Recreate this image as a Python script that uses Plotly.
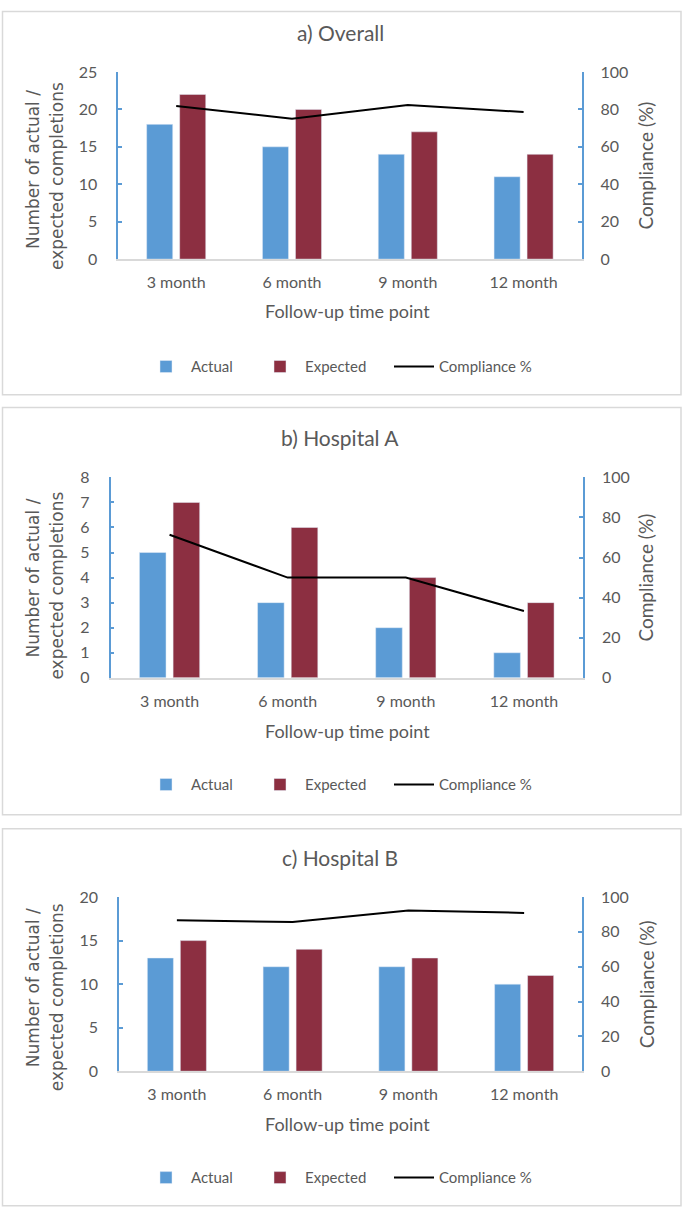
import plotly.graph_objects as go

# ---------------- data ----------------
categories = ["3 month", "6 month", "9 month", "12 month"]

overall_actual = [18, 15, 14, 11]
overall_expected = [22, 20, 17, 14]
overall_compliance = [81.8, 75.0, 82.4, 78.6]

hospA_actual = [5, 3, 2, 1]
hospA_expected = [7, 6, 4, 3]
hospA_compliance = [71.4, 50.0, 50.0, 33.3]

hospB_actual = [13, 12, 12, 10]
hospB_expected = [15, 14, 13, 11]
hospB_compliance = [86.7, 85.7, 92.3, 90.9]

series_names = ["Actual", "Expected", "Compliance %"]
panel_titles = ["a) Overall", "b) Hospital A", "c) Hospital B"]
left_max = [25, 8, 20]
left_dtick = [5, 1, 5]
right_ticks = [0, 20, 40, 60, 80, 100]

# ---------------- layout geometry (pixels of the target picture) ----------------
W, H = 685, 1209
V_OFF, V_SC = 9.0, 0.985   # vertical calibration of the rendered page


def fx(x):
    return x / W


def fy(y):
    return 1 - ((y - V_OFF) / V_SC) / H


BLUE = "#5B9BD5"
MAROON = "#8C2F41"
GREY = "#595959"
BORDER = "#D9D9D9"
CAL = "Lato, 'Open Sans', sans-serif"
VERD = "'DejaVu Sans', Verdana, sans-serif"

geom = [
    dict(l=118.3, r=581.5, t=71.0, b=258.3, title=33, xtitle=312, leg=366,
         bt=10.5, bb=394, off1=4.5, off2=10.5),
    dict(l=110.5, r=583.0, t=476.7, b=677.3, title=438.3, xtitle=731.7, leg=784.3,
         bt=406.7, bb=814.3, off1=1, off2=8),
    dict(l=119.0, r=582.0, t=896.7, b=1071.0, title=859, xtitle=1125, leg=1177.7,
         bt=828.3, bb=1205.5, off1=4, off2=13),
]
legend_text_x = [192, 306, 440]

series = [
    (overall_actual, overall_expected, overall_compliance),
    (hospA_actual, hospA_expected, hospA_compliance),
    (hospB_actual, hospB_expected, hospB_compliance),
]

fig = go.Figure()
layout = dict(
    width=W, height=H,
    margin=dict(l=0, r=0, t=0, b=0),
    paper_bgcolor="white", plot_bgcolor="white",
    barmode="group", bargap=0.43, bargroupgap=0.21,
    font=dict(family=CAL, size=15, color=GREY),
    annotations=[], shapes=[],
    showlegend=True,
)

legend_idx = 1
for i, (g, (act, exp, comp)) in enumerate(zip(geom, series)):
    xa = "x" if i == 0 else f"x{i+1}"
    ya = "y" if i == 0 else f"y{2*i+1}"
    yb = f"y{2*i+2}"
    xkey = "xaxis" if i == 0 else f"xaxis{i+1}"
    ykey = "yaxis" if i == 0 else f"yaxis{2*i+1}"
    ykey2 = f"yaxis{2*i+2}"

    legs = []
    for k in range(3):
        legend_idx += 1
        lname = f"legend{legend_idx}"
        legs.append(lname)
        layout[lname] = dict(
            orientation="h", x=fx(legend_text_x[k] - 51), y=fy(g["leg"]),
            xanchor="left", yanchor="middle",
            font=dict(family=CAL, size=15, color=GREY), bgcolor="rgba(0,0,0,0)",
            itemwidth=40,
        )

    fig.add_trace(go.Bar(x=categories, y=act, name=series_names[0], marker_color=BLUE,
                         xaxis=xa, yaxis=ya, legend=legs[0], showlegend=True))
    fig.add_trace(go.Bar(x=categories, y=exp, name=series_names[1], marker_color=MAROON,
                         xaxis=xa, yaxis=ya, legend=legs[1], showlegend=True))
    fig.add_trace(go.Scatter(x=categories, y=comp, name=series_names[2], mode="lines",
                             line=dict(color="black", width=2),
                             xaxis=xa, yaxis=yb, legend=legs[2], showlegend=True))

    layout[xkey] = dict(
        domain=[fx(g["l"]), fx(g["r"])], anchor=ya,
        showline=True, linecolor=BORDER, linewidth=1.5,
        ticks="", showgrid=False, zeroline=False,
        tickfont=dict(family=CAL, size=16, color=GREY),
        ticklabelstandoff=8,
    )
    layout[ykey] = dict(
        domain=[fy(g["b"]), fy(g["t"])], anchor=xa,
        range=[0, left_max[i]], dtick=left_dtick[i], tick0=0,
        showline=True, linecolor=BLUE, linewidth=1.5,
        ticks="inside", ticklen=4, tickcolor=BLUE, tickwidth=1.5,
        showgrid=False, zeroline=False,
        tickfont=dict(family=CAL, size=16, color=GREY),
        ticklabelstandoff=16,
    )
    layout[ykey2] = dict(
        overlaying=ya, anchor=xa, side="right",
        range=[0, 100], tickvals=right_ticks,
        showline=True, linecolor=BLUE, linewidth=1.5,
        ticks="inside", ticklen=4, tickcolor=BLUE, tickwidth=1.5,
        showgrid=False, zeroline=False,
        tickfont=dict(family=CAL, size=16, color=GREY),
        ticklabelstandoff=14,
    )

    cy = (g["t"] + g["b"]) / 2
    layout["annotations"] += [
        dict(text=panel_titles[i], x=fx(340), y=fy(g["title"] - 1.5), xref="paper", yref="paper",
             showarrow=False, xanchor="center", yanchor="middle",
             font=dict(family=CAL, size=21, color=GREY)),
        dict(text="Follow-up time point", x=fx(348), y=fy(g["xtitle"] - 1.5), xref="paper", yref="paper",
             showarrow=False, xanchor="center", yanchor="middle",
             font=dict(family=CAL, size=18, color=GREY)),
        dict(text="Number of actual /", x=fx(33), y=fy(cy + g["off1"]), xref="paper", yref="paper",
             showarrow=False, xanchor="center", yanchor="middle", textangle=-90,
             font=dict(family=VERD, size=17, color=GREY)),
        dict(text="expected completions", x=fx(57), y=fy(cy + g["off2"]), xref="paper", yref="paper",
             showarrow=False, xanchor="center", yanchor="middle", textangle=-90,
             font=dict(family=VERD, size=17, color=GREY)),
        dict(text="Compliance (%)", x=fx(646), y=fy(cy), xref="paper", yref="paper",
             showarrow=False, xanchor="center", yanchor="middle", textangle=-90,
             font=dict(family=CAL, size=19, color=GREY)),
    ]
    layout["shapes"].append(
        dict(type="rect", xref="paper", yref="paper",
             x0=fx(2.5), x1=fx(681), y0=fy(g["bb"]), y1=fy(g["bt"]),
             line=dict(color=BORDER, width=1.5), fillcolor="rgba(0,0,0,0)", layer="below")
    )

fig.update_layout(**layout)

css_fix = (
    "var s=document.createElement('style');"
    "s.textContent='html,body{margin:0!important;padding:0!important;overflow:hidden;}';"
    "document.head.appendChild(s);"
)
fig.write_html("out.html", config={"displayModeBar": False}, post_script=css_fix)
